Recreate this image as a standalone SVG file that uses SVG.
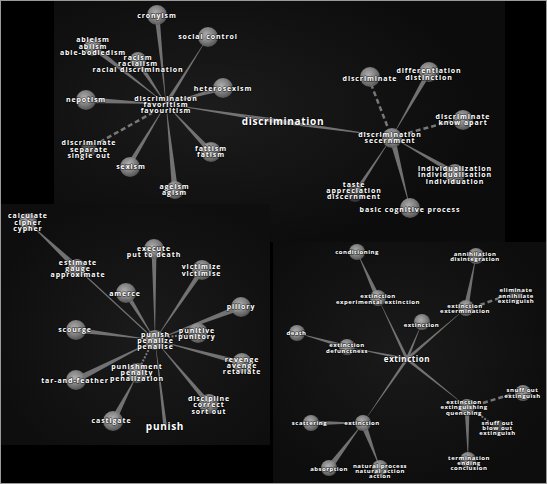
<svg xmlns="http://www.w3.org/2000/svg" width="547" height="484" viewBox="0 0 547 484">
<defs>
<radialGradient id="g" cx="42%" cy="38%" r="62%">
<stop offset="0" stop-color="#bdbdbd"/>
<stop offset="0.55" stop-color="#8e8e8e"/>
<stop offset="1" stop-color="#5c5c5c"/>
</radialGradient>
<radialGradient id="p1" cx="35%" cy="45%" r="60%">
<stop offset="0" stop-color="#1c1c1c"/>
<stop offset="1" stop-color="#0c0c0c"/>
</radialGradient>
<radialGradient id="p2" cx="55%" cy="55%" r="60%">
<stop offset="0" stop-color="#1b1b1b"/>
<stop offset="1" stop-color="#0e0e0e"/>
</radialGradient>
<radialGradient id="p3" cx="45%" cy="45%" r="60%">
<stop offset="0" stop-color="#1a1a1a"/>
<stop offset="1" stop-color="#0d0d0d"/>
</radialGradient>
<style>
.s{fill:url(#g);opacity:.9}
.sf{fill:url(#g);opacity:.45}
.w{fill:#8a8a8a;opacity:.8}
.d{stroke:#8a8a8a;stroke-width:2.5;stroke-dasharray:5 3;fill:none;opacity:.85}
.o{stroke:#8a8a8a;stroke-width:2;stroke-dasharray:2 1.5;fill:none;opacity:.85}
.l{stroke:#8a8a8a;stroke-width:1.2;fill:none;opacity:.8}
text{font-family:"Open Sans","DejaVu Sans",sans-serif;font-weight:700;fill:#fff;text-anchor:middle;stroke:#000;stroke-opacity:.55;stroke-width:1.4px;paint-order:stroke}
.t{font-size:7px;letter-spacing:.9px}
.u{font-size:6px;letter-spacing:.5px}
.m{font-size:10px;letter-spacing:.7px}
.m8{font-size:8px;letter-spacing:.55px}
</style>
</defs>
<rect x="0" y="0" width="547" height="484" fill="#000"/>
<rect x="54" y="0" width="451" height="242" fill="url(#p1)"/>
<rect x="0" y="204" width="270" height="241" fill="url(#p2)"/>
<rect x="273" y="242" width="274" height="242" fill="url(#p3)"/>
<rect x="0.5" y="0.5" width="546" height="483" fill="none" stroke="#9a9a9a" stroke-width="1"/>

<g id="connectors">
<polygon class="w" points="166,104 159.5,14.75 154.5,15.25"/>
<polygon class="w" points="208,37 164.3,102.94 167.7,105.06"/>
<polygon class="w" points="166,104 94.54,45.03 91.46,48.97"/>
<polygon class="w" points="166,104 140.08,60.61 135.92,63.39"/>
<polygon class="w" points="166,104 223.68,90.41 222.32,85.59"/>
<polygon class="w" points="166,104 86.15,97 85.85,103"/>
<line class="d" x1="100" y1="142" x2="152" y2="113"/>
<polygon class="w" points="166,104 209.18,153.71 212.82,150.29"/>
<polygon class="w" points="166,104 125.86,165.71 130.14,168.29"/>
<polygon class="w" points="166,104 172.02,190.31 177.98,189.69"/>
<polygon class="w" points="166,104 282.62,124.47 283.38,119.53"/>
<polygon class="w" points="392,137 283.27,120.02 282.73,123.98"/>
<line class="d" x1="371" y1="84" x2="388" y2="128"/>
<polygon class="w" points="392,137 431.17,73.24 426.83,70.76"/>
<line class="d" x1="408" y1="133" x2="452" y2="121"/>
<polygon class="w" points="392,137 453.76,175.17 456.24,170.83"/>
<polygon class="w" points="392,137 353.33,191.9 356.67,194.1"/>
<polygon class="w" points="410,208 394.91,136.26 389.09,137.74"/>

<polygon class="w" points="28,222 74.95,270.19 79.05,265.81"/>
<line class="l" x1="77" y1="268" x2="155" y2="340"/>
<polygon class="w" points="155,340 156.5,248.97 151.5,249.03"/>
<polygon class="w" points="155,340 204.08,271.39 199.92,268.61"/>
<polygon class="w" points="155,340 128.13,291.69 123.87,294.31"/>
<polygon class="w" points="155,340 242.07,309.8 239.93,304.2"/>
<polygon class="w" points="155,340 76.31,327.52 75.69,332.48"/>
<line class="o" x1="168" y1="337" x2="188" y2="334"/>
<polygon class="w" points="155,340 241.36,365.42 242.64,360.58"/>
<polygon class="w" points="155,340 74.64,377.32 77.36,382.68"/>
<line class="o" x1="150" y1="347" x2="141" y2="365"/>
<polygon class="w" points="155,340 207.09,405.61 210.91,402.39"/>
<polygon class="w" points="137,375 110.34,419.61 115.66,422.39"/>
<polygon class="w" points="155,340 163.21,425.21 166.79,424.79"/>

<polygon class="w" points="378,298 405.64,359.64 408.36,358.36"/>
<polygon class="w" points="422,323 405.62,358.42 408.38,359.58"/>
<polygon class="w" points="466,308 406.02,357.87 407.98,360.13"/>
<polygon class="w" points="347,347 406.71,360.47 407.29,357.53"/>
<polygon class="w" points="467,407 407.94,357.83 406.06,360.17"/>
<polygon class="w" points="363,423 408.24,359.85 405.76,358.15"/>
<polygon class="w" points="357,252 375.73,299.04 380.27,296.96"/>
<polygon class="w" points="476,256 463.55,307.53 468.45,308.47"/>
<line class="d" x1="480" y1="305" x2="505" y2="296"/>
<polygon class="w" points="297,333 346.46,348.93 347.54,345.07"/>
<line class="d" x1="483" y1="403" x2="512" y2="394"/>
<line class="o" x1="476" y1="412" x2="489" y2="422"/>
<polygon class="w" points="468,460 469.5,406.95 464.5,407.05"/>
<polygon class="w" points="363,423 311,420.5 311,425.5"/>
<polygon class="w" points="363,423 326.61,466.19 331.39,469.81"/>
<polygon class="w" points="380,468 365.81,421.94 360.19,424.06"/>
</g>

<g id="n-cronyism"><circle class="s" cx="157" cy="15" r="10"/><text class="t" x="157" y="18">cronyism</text></g>
<g id="n-social-control"><circle class="s" cx="208" cy="37" r="10"/><text class="t" x="208" y="39">social control</text></g>
<g id="n-ableism"><circle class="s" cx="93" cy="47" r="9"/><text class="t" x="93" y="42">ableism</text><text class="t" x="93" y="48.5">ablism</text><text class="t" x="93" y="55">able-bodiedism</text></g>
<g id="n-racism"><circle class="s" cx="138" cy="60" r="8"/><text class="t" x="138" y="59.5">racism</text><text class="t" x="138" y="65.5">racialism</text><text class="t" x="138" y="72">racial discrimination</text></g>
<g id="n-heterosexism"><circle class="s" cx="223" cy="88" r="10"/><text class="t" x="223" y="90.5">heterosexism</text></g>
<g id="n-nepotism"><circle class="s" cx="86" cy="100" r="10"/><text class="t" x="86" y="102">nepotism</text></g>
<g id="n-hub-favoritism"><text class="t" x="166" y="100.5">discrimination</text><text class="t" x="166" y="106.5">favoritism</text><text class="t" x="166" y="113">favouritism</text></g>
<g id="n-discriminate-separate"><circle class="sf" cx="89" cy="149" r="8"/><text class="t" x="89" y="145">discriminate</text><text class="t" x="89" y="151.5">separate</text><text class="t" x="89" y="157.5">single out</text></g>
<g id="n-fattism"><circle class="s" cx="211" cy="152" r="10"/><text class="t" x="211" y="150.5">fattism</text><text class="t" x="211" y="157">fatism</text></g>
<g id="n-sexism"><circle class="s" cx="130" cy="167" r="10"/><text class="t" x="131" y="169">sexism</text></g>
<g id="n-ageism"><circle class="s" cx="175" cy="190" r="9"/><text class="t" x="174.5" y="189">ageism</text><text class="t" x="174.5" y="195">agism</text></g>
<g id="n-discrimination-main"><text class="m" x="283" y="125">discrimination</text></g>
<g id="n-discriminate"><circle class="s" cx="370" cy="77" r="10"/><text class="t" x="370" y="80.5">discriminate</text></g>
<g id="n-differentiation"><circle class="s" cx="429" cy="72" r="10"/><text class="t" x="429" y="73">differentiation</text><text class="t" x="429" y="80">distinction</text></g>
<g id="n-know-apart"><circle class="s" cx="463" cy="120" r="10"/><text class="t" x="463" y="119">discriminate</text><text class="t" x="463" y="125">know apart</text></g>
<g id="n-hub-secernment"><circle class="s" cx="392" cy="138" r="10"/><text class="t" x="390" y="136.5">discrimination</text><text class="t" x="390" y="143">secernment</text></g>
<g id="n-individualization"><circle class="s" cx="455" cy="174" r="10"/><text class="t" x="455" y="170.5">individualization</text><text class="t" x="455" y="177">individualisation</text><text class="t" x="455" y="183.5">individuation</text></g>
<g id="n-taste"><circle class="sf" cx="355" cy="193" r="9"/><text class="t" x="354" y="186.5">taste</text><text class="t" x="354" y="192.5">appreciation</text><text class="t" x="354" y="198.5">discernment</text></g>
<g id="n-basic-cognitive"><circle class="s" cx="410" cy="208" r="10"/><text class="t" x="410" y="211.5">basic cognitive process</text></g>

<g id="n-calculate"><circle class="s" cx="28" cy="222" r="9"/><text class="t" x="28" y="218">calculate</text><text class="t" x="28" y="224.5">cipher</text><text class="t" x="28" y="231">cypher</text></g>
<g id="n-estimate"><circle class="s" cx="77" cy="268" r="9"/><text class="t" x="78" y="264.5">estimate</text><text class="t" x="78" y="271">gauge</text><text class="t" x="78" y="277">approximate</text></g>
<g id="n-execute"><circle class="s" cx="154" cy="249" r="10"/><text class="t" x="154" y="251">execute</text><text class="t" x="154" y="257">put to death</text></g>
<g id="n-victimize"><circle class="s" cx="202" cy="270" r="10"/><text class="t" x="201.5" y="269">victimize</text><text class="t" x="201.5" y="275.5">victimise</text></g>
<g id="n-amerce"><circle class="s" cx="126" cy="293" r="10"/><text class="t" x="125" y="295.5">amerce</text></g>
<g id="n-pillory"><circle class="s" cx="241" cy="307" r="10"/><text class="t" x="241" y="309">pillory</text></g>
<g id="n-scourge"><circle class="s" cx="76" cy="330" r="10"/><text class="t" x="75" y="332">scourge</text></g>
<g id="n-hub-punish"><circle class="s" cx="155" cy="340" r="10"/><text class="t" x="155.5" y="336.5">punish</text><text class="t" x="155.5" y="343">penalize</text><text class="t" x="155.5" y="349">penalise</text></g>
<g id="n-punitive"><circle class="s" cx="198" cy="333" r="10"/><text class="t" x="197" y="333">punitive</text><text class="t" x="197" y="339">punitory</text></g>
<g id="n-revenge"><circle class="s" cx="242" cy="363" r="10"/><text class="t" x="242" y="361.5">revenge</text><text class="t" x="242" y="368">avenge</text><text class="t" x="242" y="374">retaliate</text></g>
<g id="n-tar-and-feather"><circle class="s" cx="76" cy="380" r="10"/><text class="t" x="75" y="382.5">tar-and-feather</text></g>
<g id="n-punishment"><circle class="s" cx="137" cy="373" r="10"/><text class="t" x="137" y="368.5">punishment</text><text class="t" x="137" y="375">penalty</text><text class="t" x="137" y="381">penalization</text></g>
<g id="n-discipline"><circle class="s" cx="209" cy="404" r="10"/><text class="t" x="209" y="401">discipline</text><text class="t" x="209" y="407">correct</text><text class="t" x="209" y="413.5">sort out</text></g>
<g id="n-castigate"><circle class="s" cx="113" cy="421" r="10"/><text class="t" x="111.5" y="423">castigate</text></g>
<g id="n-punish-main"><text class="m" x="165" y="430">punish</text></g>

<g id="n-conditioning"><circle class="s" cx="357" cy="252" r="8"/><text class="u" x="357" y="254">conditioning</text></g>
<g id="n-annihilation"><circle class="s" cx="476" cy="256" r="8"/><text class="u" x="475" y="255.5">annihilation</text><text class="u" x="475" y="261">disintegration</text></g>
<g id="n-eliminate"><circle class="sf" cx="516" cy="295" r="7"/><text class="u" x="516" y="292">eliminate</text><text class="u" x="516" y="297.5">annihilate</text><text class="u" x="516" y="302.5">extinguish</text></g>
<g id="n-experimental"><circle class="s" cx="378" cy="298" r="8"/><text class="u" x="378" y="298">extinction</text><text class="u" x="378" y="303.5">experimental extinction</text></g>
<g id="n-extermination"><circle class="s" cx="466" cy="308" r="8"/><text class="u" x="465" y="307.5">extinction</text><text class="u" x="465" y="313">extermination</text></g>
<g id="n-extinction-small"><circle class="s" cx="422" cy="322" r="8"/><text class="u" x="421.5" y="326.5">extinction</text></g>
<g id="n-death"><circle class="s" cx="297" cy="333" r="8"/><text class="u" x="296.5" y="335">death</text></g>
<g id="n-defunctness"><circle class="s" cx="347" cy="347" r="8"/><text class="u" x="347" y="347">extinction</text><text class="u" x="347" y="352.5">defunctness</text></g>
<g id="n-extinction-main"><text class="m8" x="407" y="362">extinction</text></g>
<g id="n-snuff-out"><circle class="s" cx="523" cy="393" r="8"/><text class="u" x="522.5" y="392">snuff out</text><text class="u" x="522.5" y="397.5">extinguish</text></g>
<g id="n-quenching"><circle class="s" cx="467" cy="407" r="8"/><text class="u" x="464" y="403.5">extinction</text><text class="u" x="464" y="409">extinguishing</text><text class="u" x="464" y="414.5">quenching</text></g>
<g id="n-blow-out"><circle class="sf" cx="498" cy="427" r="7"/><text class="u" x="497.5" y="424.5">snuff out</text><text class="u" x="497.5" y="430">blow out</text><text class="u" x="497.5" y="435">extinguish</text></g>
<g id="n-scattering"><circle class="s" cx="311" cy="423" r="8"/><text class="u" x="309.5" y="424.5">scattering</text></g>
<g id="n-extinction-hub"><circle class="s" cx="363" cy="423" r="8"/><text class="u" x="362" y="425">extinction</text></g>
<g id="n-termination"><circle class="s" cx="468" cy="460" r="8"/><text class="u" x="469" y="459.5">termination</text><text class="u" x="469" y="464.5">ending</text><text class="u" x="469" y="469.5">conclusion</text></g>
<g id="n-absorption"><circle class="s" cx="329" cy="468" r="8"/><text class="u" x="329" y="471">absorption</text></g>
<g id="n-natural-process"><circle class="s" cx="380" cy="468" r="8"/><text class="u" x="380" y="467.5">natural process</text><text class="u" x="380" y="472.5">natural action</text><text class="u" x="380" y="478">action</text></g>
</svg>
